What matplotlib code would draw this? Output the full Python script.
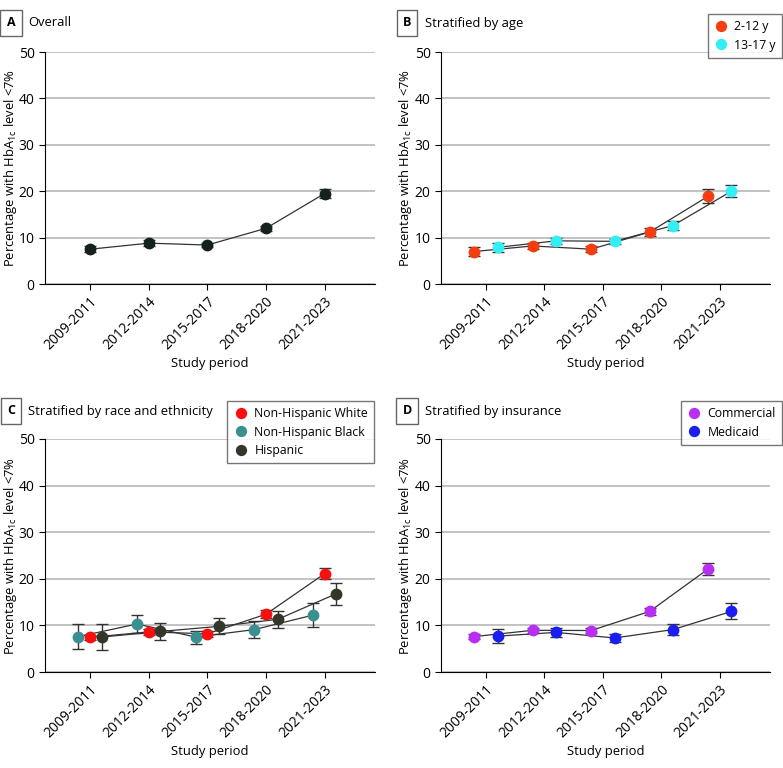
import numpy as np
import matplotlib.pyplot as plt

plt.rcParams['font.family'] = ['Open Sans', 'DejaVu Sans']
plt.rcParams['mathtext.fontset'] = 'custom'
plt.rcParams['mathtext.rm'] = 'Open Sans'

periods = ["2009-2011", "2012-2014", "2015-2017", "2018-2020", "2021-2023"]

# panel A
overall = [7.5, 8.8, 8.4, 12.0, 19.5]
overall_err = [0.6, 0.6, 0.5, 0.6, 0.95]

# panel B
age_labels = ["2-12 y", "13-17 y"]
age_vals = [[7.0, 8.2, 7.5, 11.2, 18.9],
            [7.9, 9.3, 9.2, 12.6, 20.0]]
age_err = [[0.9, 0.6, 0.6, 0.9, 1.5],
           [1.0, 0.6, 0.6, 0.9, 1.3]]
age_colors = ["#f53d12", "#33eef5"]
age_offsets = [-0.2, 0.2]

# panel C
race_labels = ["Non-Hispanic White", "Non-Hispanic Black", "Hispanic"]
race_vals = [[7.45, 8.6, 8.2, 12.4, 21.1],
             [7.6, 10.3, 7.5, 9.1, 12.2],
             [7.5, 8.7, 9.8, 11.3, 16.8]]
race_err = [[0.5, 0.7, 0.6, 0.8, 1.2],
            [2.65, 2.0, 1.4, 1.85, 2.5],
            [2.8, 1.8, 1.7, 1.8, 2.4]]
race_colors = ["#fa0f0f", "#3a8f91", "#34362a"]
race_offsets = [0.0, -0.2, 0.2]

# panel D
ins_labels = ["Commercial", "Medicaid"]
ins_vals = [[7.6, 8.95, 8.9, 13.0, 22.1],
            [7.7, 8.5, 7.3, 9.1, 13.0]]
ins_err = [[0.6, 0.5, 0.5, 0.7, 1.2],
           [1.5, 1.0, 0.9, 1.1, 1.7]]
ins_colors = ["#b82ef2", "#1a1ef0"]
ins_offsets = [-0.2, 0.2]

W, H = 783, 768
fig = plt.figure(figsize=(W / 100, H / 100), dpi=100)

def make_ax(left, top, right, bottom):
    return fig.add_axes([left / W, 1 - bottom / H, (right - left) / W, (bottom - top) / H])

axA = make_ax(45, 52, 375, 284)
axB = make_ax(441, 52, 770, 284)
axC = make_ax(45, 439, 375, 672)
axD = make_ax(441, 439, 770, 672)

x = np.arange(len(periods))
ylab = r"Percentage with HbA$_\mathregular{1c}$ level <7%"

def style(ax, ylab_px):
    ax.set_xlim(-0.77, 4.86)
    ax.set_ylim(0, 50)
    ax.set_yticks([0, 10, 20, 30, 40, 50])
    ax.set_xticks(x)
    ax.set_xticklabels(periods, rotation=45, ha="right", rotation_mode="anchor")
    ax.yaxis.grid(True, color="#bdbdbd", lw=1.3)
    ax.set_axisbelow(True)
    for s in ["top", "right"]:
        ax.spines[s].set_visible(False)
    ax.spines["left"].set_color("black")
    ax.spines["bottom"].set_color("black")
    ax.tick_params(labelsize=10, length=4, color="black")
    ax.set_ylabel(ylab, fontsize=9.4)
    ax.yaxis.set_label_coords(ylab_px / 330.0, 0.5)
    ax.set_xlabel("Study period", fontsize=9.4, labelpad=3)

def series(ax, vals, errs, colors, labels, offsets):
    for v, e, c, lab, off in zip(vals, errs, colors, labels, offsets):
        ax.plot(x + off, v, color="#333333", lw=0.9, zorder=2)
        ax.errorbar(x + off, v, yerr=e, fmt="none", ecolor="#333333", elinewidth=1.0,
                    capsize=4.5, capthick=1.0, zorder=3)
        ax.plot(x + off, v, "o", color=c, ms=7.5, zorder=4, label=lab, ls="none")

series(axA, [overall], [overall_err], ["#15221c"], ["Overall"], [0.0])
series(axB, age_vals, age_err, age_colors, age_labels, age_offsets)
series(axC, race_vals, race_err, race_colors, race_labels, race_offsets)
series(axD, ins_vals, ins_err, ins_colors, ins_labels, ins_offsets)
style(axA, -26)
style(axB, -27)
style(axC, -26)
style(axD, -27)

def leg(ax, anchor):
    lg = ax.legend(loc="upper right", bbox_to_anchor=anchor, bbox_transform=fig.transFigure,
                   fontsize=8.8, frameon=True, fancybox=False, edgecolor="#555555",
                   handletextpad=0.5, handlelength=1.2, borderpad=0.5, labelspacing=0.45,
                   borderaxespad=0, markerscale=0.95)
    lg.get_frame().set_linewidth(1.0)

leg(axB, (782 / W, 1 - 14 / H))
leg(axC, (374 / W, 1 - 401 / H))
leg(axD, (782 / W, 1 - 401 / H))

panels = [("A", "Overall", 11, 23, 28), ("B", "Stratified by age", 407, 23, 425),
          ("C", "Stratified by race and ethnicity", 11, 411, 28),
          ("D", "Stratified by insurance", 407, 411, 425)]
for letter, title, lx, ly, tx in panels:
    fig.text(lx / W, 1 - ly / H, letter, fontsize=9, fontweight="bold", ha="center", va="center",
             bbox=dict(boxstyle="square,pad=0.5", fc="white", ec="#666666", lw=1.0))
    fig.text(tx / W, 1 - ly / H, title, fontsize=9.4, ha="left", va="center")

fig.savefig("out.png", dpi=100)
plt.close()
